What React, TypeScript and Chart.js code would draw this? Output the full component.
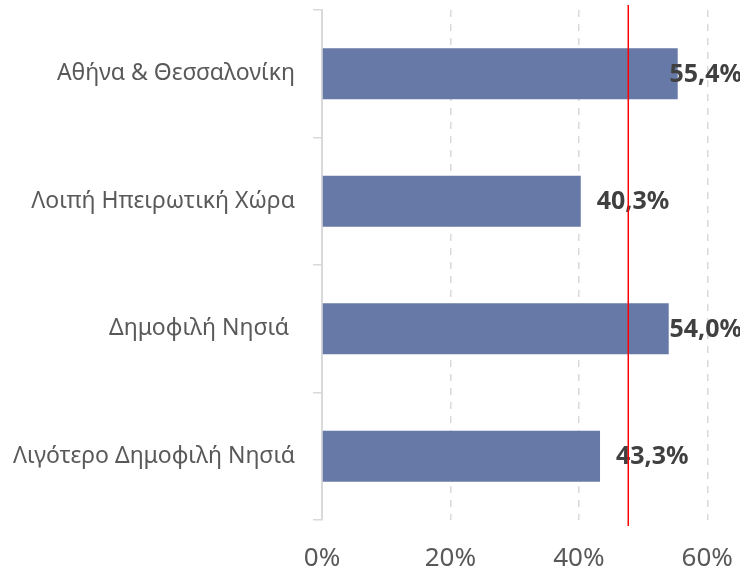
import React, { useEffect, useRef } from "react";
import { Chart, registerables } from "chart.js";

Chart.register(...registerables);

const categories = [
  "Αθήνα & Θεσσαλονίκη",
  "Λοιπή Ηπειρωτική Χώρα",
  "Δημοφιλή Νησιά ",
  "Λιγότερο Δημοφιλή Νησιά",
];
const values = [55.4, 40.3, 54.0, 43.3];
const referenceValue = 47.7;
const xTicks = [0, 20, 40, 60];
const xMax = 65.1;

const FONT = '"Noto Sans", "Open Sans", sans-serif';

const fmt = (v: number) => v.toFixed(1).replace(".", ",") + "%";

const overlayPlugin = {
  id: "overlay",
  afterDatasetsDraw(chart: any) {
    const { ctx, scales, chartArea } = chart;
    const meta = chart.getDatasetMeta(0);
    ctx.save();
    ctx.font = `bold 25px ${FONT}`;
    ctx.fillStyle = "#404040";
    ctx.textAlign = "left";
    ctx.textBaseline = "middle";
    meta.data.forEach((bar: any, i: number) => {
      const txt = fmt(values[i]);
      const w = ctx.measureText(txt).width;
      let x = bar.x + 16;
      if (x + w > chart.width + 2) x = chart.width + 2 - w;
      ctx.fillText(txt, x, bar.y + 1);
    });
    const rx = scales.x.getPixelForValue(referenceValue);
    ctx.strokeStyle = "#ff0000";
    ctx.lineWidth = 1.5;
    ctx.beginPath();
    ctx.moveTo(rx, chartArea.top - 5);
    ctx.lineTo(rx, chartArea.bottom + 6);
    ctx.stroke();
    ctx.restore();
  },
};

export default function App() {
  const ref = useRef<HTMLCanvasElement>(null);
  useEffect(() => {
    if (!ref.current) return;
    const chart = new Chart(ref.current, {
      type: "bar",
      data: {
        labels: categories,
        datasets: [
          {
            data: values,
            backgroundColor: "#6779A6",
            borderWidth: 0,
            categoryPercentage: 1,
            barPercentage: 0.4,
          },
        ],
      },
      options: {
        indexAxis: "y",
        responsive: false,
        animation: false,
        layout: { padding: { top: 10, right: 0, left: 0, bottom: 0 } },
        plugins: { legend: { display: false }, tooltip: { enabled: false } },
        scales: {
          x: {
            min: 0,
            max: xMax,
            afterBuildTicks: (axis: any) => {
              axis.ticks = xTicks.map((v) => ({ value: v }));
            },
            afterFit: (scale: any) => {
              scale.height = 54;
              scale.paddingLeft = 0;
              scale.paddingRight = 0;
            },
            ticks: {
              callback: (v: any) => v + "%",
              font: { family: FONT, size: 26 },
              color: "#595959",
              padding: 23,
            },
            grid: {
              color: (c: any) => (c.tick && c.tick.value === 0 ? "rgba(0,0,0,0)" : "#d9d9d9"),
              lineWidth: 1.5,
              drawTicks: false,
            },
            border: { display: false, dash: [7, 7] },
          },
          y: {
            afterFit: (scale: any) => {
              scale.width = 322;
              scale.paddingTop = 0;
              scale.paddingBottom = 0;
            },
            ticks: {
              font: { family: FONT, size: 23 },
              color: "#595959",
              padding: 18,
            },
            grid: {
              offset: true,
              drawOnChartArea: false,
              tickLength: 9,
              color: "#d9d9d9",
              lineWidth: 1.5,
            },
            border: { display: true, color: "#d9d9d9", width: 2 },
          },
        },
      },
      plugins: [overlayPlugin],
    });
    return () => chart.destroy();
  }, []);
  return (
    <div style={{ position: "absolute", left: 0, top: 0, width: 740, height: 574, background: "#fff" }}>
      <canvas ref={ref} width={740} height={574} style={{ display: "block" }} />
    </div>
  );
}
